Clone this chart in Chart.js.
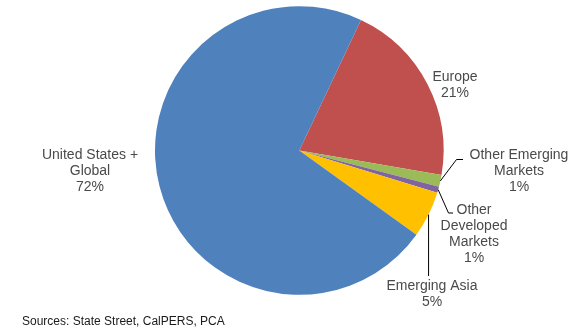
<!DOCTYPE html>
<html>
<head>
<meta charset="utf-8">
<script src="https://cdn.jsdelivr.net/npm/chart.js@4/dist/chart.umd.min.js"></script>
<style>
  html, body { margin: 0; padding: 0; background: #ffffff; }
  #wrap { width: 580px; height: 330px; position: relative; }
</style>
</head>
<body>
<div id="wrap"><canvas id="c" width="580" height="330"></canvas></div>
<script>
// Regional allocation, percent of portfolio (clockwise from Europe)
const categories = [
  ['Europe'],
  ['Other Emerging', 'Markets'],
  ['Other', 'Developed', 'Markets'],
  ['Emerging Asia'],
  ['United States +', 'Global']
];
const shares = [20.7, 1.3, 0.7, 5.2, 72.1];
const sliceColors = ['#C0504D', '#9BBB59', '#8064A2', '#FFC000', '#4F81BD'];
const sourceNote = 'Sources: State Street, CalPERS, PCA';

// Where each slice label sits and how its leader line bends
const labelLayout = [
  { cx: 455, cy: 77,  leader: null },
  { cx: 519, cy: 155, leader: { type: 'elbow', bend: [456.5, 159.5], end: [463, 159.5] } },
  { cx: 474, cy: 210, leader: { type: 'elbow', bend: [448.5, 213], end: [453, 213] } },
  { cx: 432, cy: 286, leader: { type: 'down', toY: 276 } },
  { cx: 90,  cy: 155, leader: null }
];

const LABEL_FONT = '14px "Liberation Sans", Arial, sans-serif';
const LINE_H = 16;

const sliceLabels = {
  id: 'sliceLabels',
  afterDraw(chart) {
    const ctx = chart.ctx;
    const meta = chart.getDatasetMeta(0);
    ctx.save();
    meta.data.forEach((arc, i) => {
      const lay = labelLayout[i];
      const lines = categories[i].concat([Math.round(shares[i]) + '%']);
      // leader line from the slice's outer edge
      if (lay.leader) {
        const mid = (arc.startAngle + arc.endAngle) / 2;
        const sx = arc.x + arc.outerRadius * Math.cos(mid);
        const sy = arc.y + arc.outerRadius * Math.sin(mid);
        ctx.strokeStyle = '#000000';
        ctx.lineWidth = 1;
        ctx.beginPath();
        ctx.moveTo(sx, sy);
        if (lay.leader.type === 'elbow') {
          ctx.lineTo(lay.leader.bend[0], lay.leader.bend[1]);
          ctx.lineTo(lay.leader.end[0], lay.leader.end[1]);
        } else {
          ctx.lineTo(sx, lay.leader.toY);
        }
        ctx.stroke();
      }
      ctx.font = LABEL_FONT;
      ctx.fillStyle = '#4a4a4a';
      ctx.textAlign = 'center';
      ctx.textBaseline = 'middle';
      lines.forEach((t, k) => ctx.fillText(t, lay.cx, lay.cy + k * LINE_H));
    });
    // source line
    ctx.font = '12px "Liberation Sans", Arial, sans-serif';
    ctx.fillStyle = '#1a1a1a';
    ctx.textAlign = 'left';
    ctx.textBaseline = 'middle';
    ctx.fillText(sourceNote, 22, 322);
    ctx.restore();
  }
};

new Chart(document.getElementById('c'), {
  type: 'pie',
  data: {
    labels: categories.map(l => l.join(' ')),
    datasets: [{
      data: shares,
      backgroundColor: sliceColors,
      borderWidth: 0
    }]
  },
  options: {
    responsive: false,
    animation: false,
    rotation: 25.3,
    layout: { padding: { left: 155, right: 136.4, top: 6, bottom: 35 } },
    plugins: {
      legend: { display: false },
      tooltip: { enabled: false }
    }
  },
  plugins: [sliceLabels]
});
</script>
</body>
</html>
